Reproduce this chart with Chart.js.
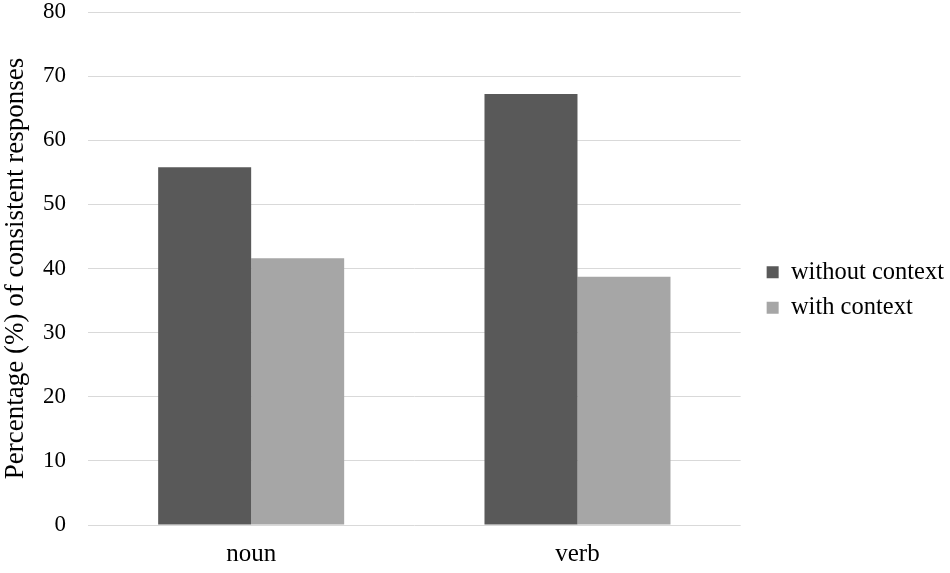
<!DOCTYPE html>
<html>
<head>
<meta charset="utf-8">
<script src="https://cdn.jsdelivr.net/npm/chart.js@4"></script>
<style>
  html, body { margin: 0; padding: 0; background: #fff; }
  #wrap { width: 950px; height: 573px; }
</style>
</head>
<body>
<div id="wrap"><canvas id="myChart"></canvas></div>
<script>
// values
const categories = ['noun', 'verb'];
const withoutContext = [55.8, 67.2];
const withContext = [41.6, 38.7];
const yTicks = [0, 10, 20, 30, 40, 50, 60, 70, 80];

const serif = "'Liberation Serif', 'Times New Roman', serif";

// widen the legend box a bit and push it right/up, so there is a gap after the plot
const legendShift = {
  id: 'legendShift',
  beforeInit(chart) {
    const lg = chart.legend;
    const fit = lg.fit;
    lg.fit = function () {
      fit.call(this);
      this.width += 11;
    };
  },
  afterLayout(chart) {
    chart.legend.left += 15;
    chart.legend.top -= 5;
  }
};

new Chart(document.getElementById('myChart'), {
  type: 'bar',
  data: {
    labels: categories,
    datasets: [{
      label: 'without context',
      data: withoutContext,
      backgroundColor: '#595959',
      borderWidth: 0
    }, {
      label: 'with context',
      data: withContext,
      backgroundColor: '#a6a6a6',
      borderWidth: 0
    }]
  },
  plugins: [legendShift],
  options: {
    responsive: true,
    maintainAspectRatio: false,
    animation: false,
    layout: {
      padding: { left: 0, right: 0, top: 12, bottom: 0 }
    },
    datasets: {
      bar: { categoryPercentage: 0.57, barPercentage: 1 }
    },
    plugins: {
      tooltip: { enabled: false },
      legend: {
        position: 'right',
        labels: {
          font: { family: serif, size: 24.5 },
          color: '#000',
          boxWidth: 12,
          boxHeight: 12,
          padding: 11
        }
      }
    },
    scales: {
      x: {
        grid: { display: false },
        border: { display: false },
        ticks: {
          font: { family: serif, size: 25 },
          color: '#000',
          padding: 6
        },
        afterFit: axis => { axis.height = 48; axis.paddingLeft = 0; axis.paddingRight = 0; }
      },
      y: {
        min: 0,
        max: 80,
        afterBuildTicks: axis => { axis.ticks = yTicks.map(v => ({ value: v })); },
        grid: { color: '#d9d9d9', lineWidth: 1, drawTicks: false },
        border: { display: false },
        ticks: {
          font: { family: serif, size: 23 },
          color: '#000',
          padding: 22
        },
        title: {
          display: true,
          text: 'Percentage (%) of consistent responses',
          font: { family: serif, size: 27 },
          color: '#000',
          padding: 0
        },
        afterFit: axis => { axis.width = 88; axis.paddingTop = 0; axis.paddingBottom = 0; }
      }
    }
  }
});
</script>
</body>
</html>
